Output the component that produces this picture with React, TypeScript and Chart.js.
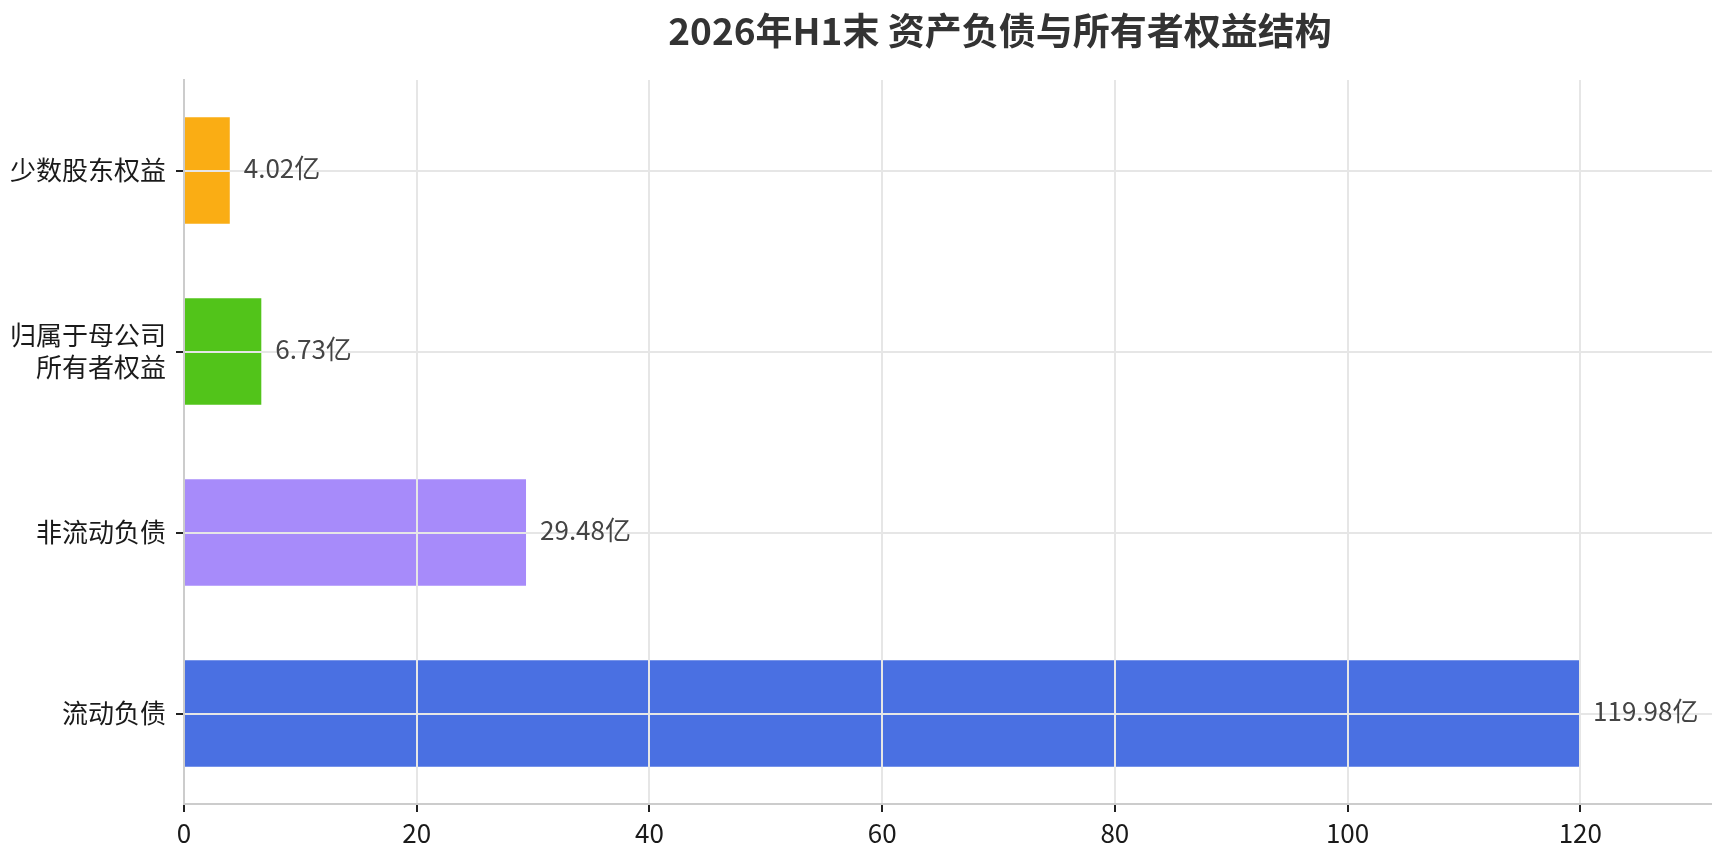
import React, { useEffect, useRef } from "react";
import { Chart, registerables } from "chart.js";

Chart.register(...registerables);

const TITLE = "2026年H1末 资产负债与所有者权益结构";
const categories: (string | string[])[] = [
  "少数股东权益",
  ["归属于母公司", "所有者权益"],
  "非流动负债",
  "流动负债",
];
const values = [4.02, 6.73, 29.48, 119.98];
const barColors = ["#FAAD14", "#52C41A", "#A78BFA", "#4A70E2"];
const unit = "亿";
const xMax = 140;
const xStep = 20;

const FONT = '"Noto Sans CJK SC", "Noto Sans", sans-serif';

const titlePlugin = {
  id: "centerTitle",
  afterDraw(chart: any) {
    const ctx = chart.ctx;
    ctx.save();
    ctx.font = `bold 37px ${FONT}`;
    ctx.fillStyle = "#333333";
    ctx.textAlign = "center";
    ctx.textBaseline = "middle";
    ctx.fillText(TITLE, chart.width / 2, 31);
    ctx.restore();
  },
};

const valueLabels = {
  id: "valueLabels",
  afterDraw(chart: any) {
    const ctx = chart.ctx;
    const meta = chart.getDatasetMeta(0);
    ctx.save();
    ctx.font = `26px ${FONT}`;
    ctx.fillStyle = "#444444";
    ctx.textAlign = "left";
    ctx.textBaseline = "middle";
    meta.data.forEach((bar: any, i: number) => {
      const v = values[i];
      ctx.fillText(`${v.toFixed(2)}${unit}`, bar.x + 13, bar.y - 2);
    });
    ctx.restore();
  },
};

export default function App() {
  const ref = useRef<HTMLCanvasElement | null>(null);

  useEffect(() => {
    document.body.style.margin = "0";
    const canvas = ref.current;
    if (!canvas) return;
    const chart = new Chart(canvas, {
      type: "bar",
      data: {
        labels: categories as any,
        datasets: [
          {
            data: values,
            backgroundColor: barColors,
            borderColor: "rgba(255,255,255,0.35)",
            borderWidth: 1,
            barPercentage: 0.6,
            categoryPercentage: 1,
          },
        ],
      },
      options: {
        indexAxis: "y",
        animation: false,
        responsive: false,
        devicePixelRatio: 1,
        layout: { padding: { left: 0, right: 187, top: 80, bottom: 0 } },
        plugins: {
          legend: { display: false },
          tooltip: { enabled: false },
          title: { display: false },
        },
        scales: {
          x: {
            type: "linear",
            min: 0,
            max: xMax,
            ticks: {
              stepSize: xStep,
              color: "#1a1a1a",
              font: { family: FONT, size: 26 },
              padding: 6,
            },
            grid: {
              z: 1,
              color: "#e6e6e6",
              lineWidth: 2,
              tickColor: "#222222",
              tickLength: 8,
              tickWidth: 2,
            },
            border: { color: "#cccccc", width: 2, z: 1 },
            afterFit(scale: any) {
              scale.height = 52;
            },
          },
          y: {
            type: "category",
            ticks: {
              color: "#1a1a1a",
              font: { family: FONT, size: 26, lineHeight: 1.23 },
              padding: 10,
            },
            grid: {
              z: 1,
              offset: false,
              color: "#e6e6e6",
              lineWidth: 2,
              tickColor: "#222222",
              tickLength: 8,
              tickWidth: 2,
            },
            border: { color: "#cccccc", width: 2, z: 1 },
            afterFit(scale: any) {
              scale.width = 184;
            },
          },
        },
      },
      plugins: [titlePlugin, valueLabels],
    });
    return () => chart.destroy();
  }, []);

  return (
    <div style={{ width: 1712, height: 856, overflow: "hidden", background: "#fff" }}>
      <canvas ref={ref} width={2000} height={856} style={{ width: 2000, height: 856, display: "block" }} />
    </div>
  );
}
